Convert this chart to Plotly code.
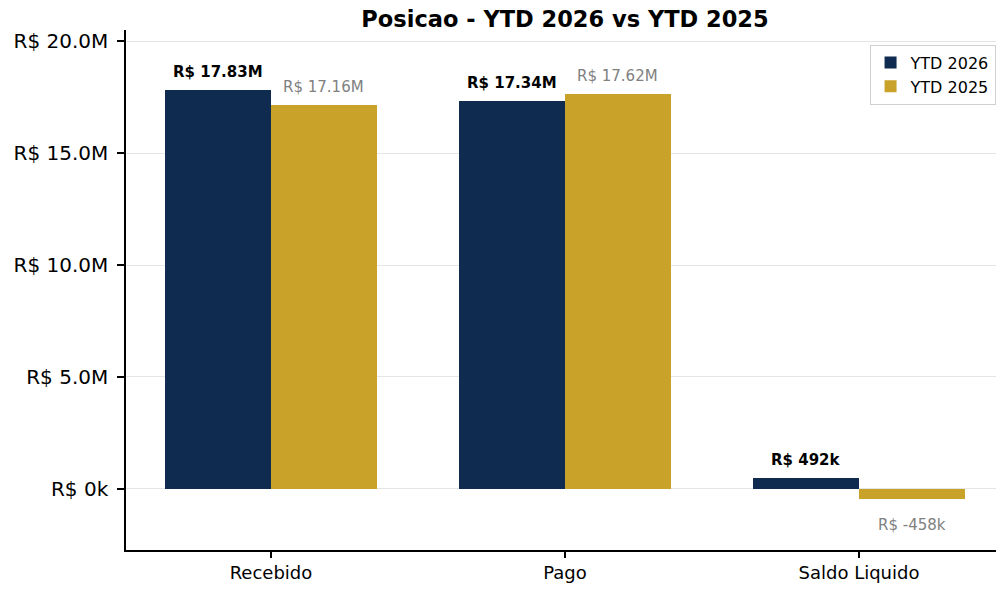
import plotly.graph_objects as go

categories = ["Recebido", "Pago", "Saldo Liquido"]
ytd_2026 = [17.83e6, 17.34e6, 0.492e6]
ytd_2025 = [17.16e6, 17.62e6, -0.458e6]
labels_2026 = ["R$ 17.83M", "R$ 17.34M", "R$ 492k"]
labels_2025 = ["R$ 17.16M", "R$ 17.62M", "R$ -458k"]
tick_vals = [0, 5e6, 10e6, 15e6, 20e6]
tick_text = ["R$ 0k", "R$ 5.0M", "R$ 10.0M", "R$ 15.0M", "R$ 20.0M"]

NAVY = "#0f2b4f"
GOLD = "#c9a22a"
FONT = "DejaVu Sans"
W = 0.36

fig = go.Figure()
fig.add_trace(go.Bar(x=list(range(len(categories))), y=ytd_2026, name="YTD 2026",
                     marker=dict(color=NAVY, line=dict(width=0)), width=W, offset=-W))
fig.add_trace(go.Bar(x=list(range(len(categories))), y=ytd_2025, name="YTD 2025",
                     marker=dict(color=GOLD, line=dict(width=0)), width=W, offset=0))

for i, (v, t) in enumerate(zip(ytd_2026, labels_2026)):
    fig.add_annotation(x=i - W / 2, y=v, text=f"<b>{t}</b>", showarrow=False,
                       yanchor="middle", yshift=18 if v >= 0 else -26,
                       font=dict(family=FONT, size=15, color="black"))
for i, (v, t) in enumerate(zip(ytd_2025, labels_2025)):
    fig.add_annotation(x=i + W / 2, y=v, text=t, showarrow=False,
                       yanchor="middle", yshift=18 if v >= 0 else -26,
                       font=dict(family=FONT, size=15, color="#808080"))

fig.update_layout(
    width=996, height=589,
    margin=dict(l=126, r=0, t=30, b=39),
    plot_bgcolor="white", paper_bgcolor="white",
    font=dict(family=FONT, color="black"),
    bargap=0, bargroupgap=0,
    title=dict(text="<b>Posicao - YTD 2026 vs YTD 2025</b>", x=565 / 996, xref="container",
               xanchor="center", y=1 - 19 / 589, yref="container", yanchor="middle",
               font=dict(family=FONT, size=22.5, color="black")),
    legend=dict(x=0.9995, xanchor="right", y=0.972, yanchor="top",
                bordercolor="#d0d0d0", borderwidth=1, bgcolor="rgba(255,255,255,0.85)",
                font=dict(family=FONT, size=16, color="black"),
                tracegroupgap=2, itemwidth=30),
    showlegend=True,
)
fig.update_xaxes(range=[-0.493, 2.466], tickvals=list(range(len(categories))), ticktext=categories,
                 showline=True, linecolor="black", linewidth=1.5, ticks="outside", ticklen=6,
                 tickcolor="black", tickwidth=1.5, showgrid=False, zeroline=False,
                 tickfont=dict(family=FONT, size=18, color="black"))
fig.update_yaxes(range=[-2.73e6, 20.5e6], tickvals=tick_vals, ticktext=tick_text,
                 showline=True, linecolor="black", linewidth=1.5, ticks="outside", ticklen=7,
                 tickcolor="black", tickwidth=1.5, showgrid=True, gridcolor="rgba(0,0,0,0.1)",
                 gridwidth=1.3, zeroline=False, layer="above traces", ticklabelstandoff=5,
                 tickfont=dict(family=FONT, size=20, color="black"))

fig.write_html("out.html", config={"displayModeBar": False},
               post_script="document.body.style.margin='0';document.body.style.overflow='hidden';")
